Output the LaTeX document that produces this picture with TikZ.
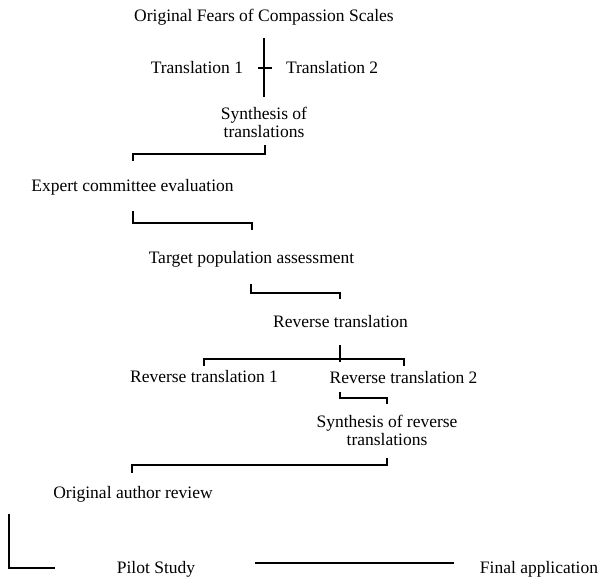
\documentclass[tikz,border=0pt]{standalone}
\usepackage{fontspec}
\setmainfont{Liberation Serif}
\begin{document}
\begin{tikzpicture}[x=1pt,y=-1pt,
  lbl/.style={inner sep=0pt,outer sep=0pt,font=\fontsize{17.5}{18}\selectfont,anchor=base},
  lbl2/.style={inner sep=0pt,outer sep=0pt,font=\fontsize{17.5}{18}\selectfont,align=center,anchor=north},
  thin/.style={line width=1.4pt,line cap=rect},
  thick/.style={line width=2.2pt},
  heavy/.style={line width=2.6pt}]
\useasboundingbox (0,0) rectangle (600,581);
% texts
\node[lbl] (orig) at (264,21) {Original Fears of Compassion Scales};
\node[lbl,anchor=base east] (t1) at (243,73) {Translation 1};
\node[lbl,anchor=base west] (t2) at (286,73) {Translation 2};
\node[lbl2] (synth) at (264,107) {Synthesis of\\translations};
\node[lbl] (expert) at (132.5,191) {Expert committee evaluation};
\node[lbl] (target) at (251.5,263) {Target population assessment};
\node[lbl] (rev) at (340.5,327) {Reverse translation};
\node[lbl] (rev1) at (204,382) {Reverse translation 1};
\node[lbl] (rev2) at (403.5,383) {Reverse translation 2};
\node[lbl2] (synrev) at (387,415) {Synthesis of reverse\\translations};
\node[lbl] (author) at (133,498) {Original author review};
\node[lbl] (pilot) at (156,573) {Pilot Study};
\node[lbl] (final) at (539,573) {Final application};
% connector points
\coordinate (v1) at (264,38);
\coordinate (v2) at (264,65);
\coordinate (v3) at (264,97);
\coordinate (k1) at (259,68);
\coordinate (k2) at (271,68);
\coordinate (a1) at (133,160);
\coordinate (a2) at (265,146);
\coordinate (b1) at (133,212);
\coordinate (b2) at (252,229);
\coordinate (c1) at (251,285);
\coordinate (c2) at (340,298);
\coordinate (f1) at (204,365);
\coordinate (f2) at (404,365);
\coordinate (fm1) at (340,345);
\coordinate (fm2) at (340,362);
\coordinate (d1) at (340,393);
\coordinate (d2) at (387,403);
\coordinate (e1) at (132,472);
\coordinate (e2) at (387,459);
\coordinate (l1) at (9,514);
\coordinate (l2) at (55,568);
\coordinate (p1) at (256,563);
\coordinate (p2) at (453,563);
% connectors
\draw[heavy] (v1) -- (v2);
\draw[thick] (v2) -- (v3);
\draw[thin] (k1) -- (k2);
\draw[thin] (a1) -- (133,154) -| (a2);
\draw[thin] (b1) -- (133,223) -| (b2);
\draw[thin] (c1) -- (251,293) -| (c2);
\draw[thin] (f1) -- (204,359) -| (f2);
\draw[thick] (fm1) -- (fm2);
\draw[thin] (d1) -- (340,398) -| (d2);
\draw[thin] (e1) -- (132,465) -| (e2);
\draw[heavy,line join=miter] (l1) |- (l2);
\draw[thin] (p1) -- (p2);
\end{tikzpicture}
\end{document}
